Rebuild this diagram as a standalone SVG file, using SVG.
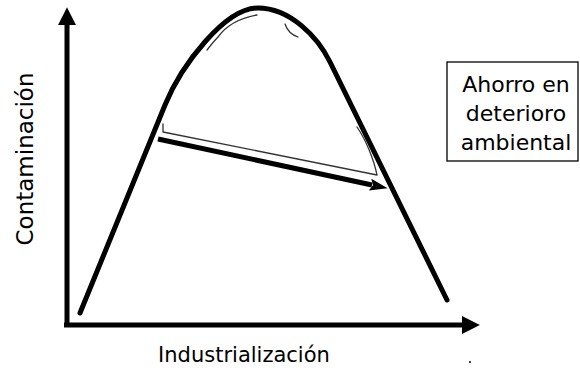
<svg xmlns="http://www.w3.org/2000/svg" width="580" height="370" viewBox="0 0 580 370">
<style>
.lbl{font-family:"DejaVu Sans","Verdana",sans-serif;fill:#000}
.axis{stroke:#000;stroke-width:5;fill:none}
.curve{stroke:#000;stroke-width:5;fill:none;stroke-linecap:round;stroke-linejoin:round}
.thin{stroke:#333;stroke-width:1.3;fill:none;stroke-linecap:round;stroke-linejoin:round}
</style>
<defs>
<marker id="axhead" markerUnits="userSpaceOnUse" markerWidth="18" markerHeight="18" viewBox="0 0 16 16" refX="1" refY="8" orient="auto">
<path d="M0,0 L16,8 L0,16 z" fill="#000"/>
</marker>
<marker id="head" markerUnits="userSpaceOnUse" markerWidth="18" markerHeight="12" viewBox="0 0 18 12" refX="2" refY="6" orient="auto">
<path d="M0,0 L18,6 L0,12 L3,6 z" fill="#000"/>
</marker>
</defs>
<rect width="580" height="370" fill="#fff"/>
<g id="axes">
<path class="axis" d="M67,327 L67,24" marker-end="url(#axhead)"/>
<path class="axis" d="M64,325 L463,325" marker-end="url(#axhead)"/>
</g>
<g id="curve">
<path class="curve" d="M80,313 L165,105 C181.4,65 225,8 258,8 C290,8 317.8,37 330,62 L447,300"/>
</g>
<g id="connectors">
<path class="thin" d="M163,124 L163,132 L377,175 C374,160 366,140 357,127"/>
<path class="thin" d="M207,50 C211,45 214,41 218,37 C226,26 240,18 257,15"/>
<path class="thin" d="M285,24 C287,30 292,35 298,37"/>
<path d="M158,139 L372,185" stroke="#000" stroke-width="5" fill="none" marker-end="url(#head)"/>
</g>
<g id="box">
<rect x="447" y="62" width="131" height="99" fill="#fff" stroke="#000" stroke-width="1.3"/>
<text class="lbl" font-size="22" text-anchor="middle" x="516" y="92">Ahorro en</text>
<text class="lbl" font-size="22" text-anchor="middle" x="516" y="121">deterioro</text>
<text class="lbl" font-size="22" text-anchor="middle" x="516" y="150">ambiental</text>
</g>
<g id="labels">
<text class="lbl" font-size="21" text-anchor="middle" x="244" y="362">Industrialización</text>
<text class="lbl" font-size="23" text-anchor="middle" transform="translate(33,159) rotate(-90)">Contaminación</text>
<circle cx="470" cy="362" r="1" fill="#000"/>
</g>
</svg>
